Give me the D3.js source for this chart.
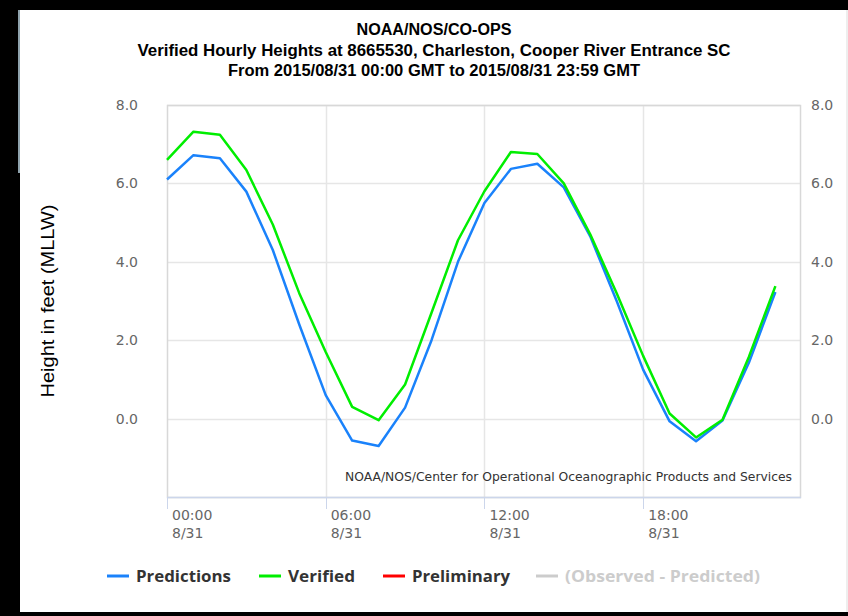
<!DOCTYPE html>
<head>
  <meta charset="utf-8">
  <script src="https://d3js.org/d3.v7.min.js"></script>
  <style>
    body { margin: 0; background: #000; }
    text { font-family: "Liberation Sans", Arial, sans-serif; }
  </style>
</head>
<body>
  <div id="graph"></div>
  <script>
    // hourly data, 2015/08/31 GMT
    var hours = d3.range(24);
    var predictions = [6.1, 6.72, 6.64, 5.79, 4.3, 2.4, 0.6, -0.56, -0.7, 0.28, 2.0, 4.0,
      5.5, 6.37, 6.5, 5.9, 4.65, 3.0, 1.25, -0.07, -0.58, -0.05, 1.43, 3.23];
    var verified = [6.6, 7.32, 7.24, 6.34, 4.95, 3.2, 1.7, 0.3, -0.04, 0.87, 2.7, 4.55,
      5.8, 6.8, 6.75, 6.0, 4.7, 3.2, 1.6, 0.13, -0.48, -0.03, 1.58, 3.38];
    var yTicks = [0, 2, 4, 6, 8];
    var xTicks = [0, 6, 12, 18];
    var xTickLabels = ["00:00", "06:00", "12:00", "18:00"];
    var titles = ["NOAA/NOS/CO-OPS",
      "Verified Hourly Heights at 8665530, Charleston, Cooper River Entrance SC",
      "From 2015/08/31 00:00 GMT to 2015/08/31 23:59 GMT"];
    var titleWidths = [155, 593, 412];
    var legendItems = [
      { name: "Predictions", color: "#1a82fb", text: "#333", w: 95 },
      { name: "Verified", color: "#00ee00", text: "#333", w: 67 },
      { name: "Preliminary", color: "#ff0000", text: "#333", w: 98 },
      { name: "(Observed - Predicted)", color: "#cccccc", text: "#cccccc", w: 195 }
    ];

    var width = 848, height = 616;
    var svg = d3.select("#graph").append("svg")
      .attr("width", width)
      .attr("height", height)
      .style("display", "block");

    // screenshot frame
    svg.append("rect").attr("width", width).attr("height", height).attr("fill", "#000");
    svg.append("rect").attr("x", 20).attr("y", 10).attr("width", 828).attr("height", 602).attr("fill", "#fff");
    svg.append("rect").attr("x", 18).attr("y", 10).attr("width", 2).attr("height", 163).attr("fill", "#8fa3ad");
    svg.append("rect").attr("x", 846).attr("y", 10).attr("width", 2).attr("height", 602).attr("fill", "#eee");

    var pLeft = 167, pRight = 800, pTop = 105, pBottom = 497;
    var x = d3.scaleLinear().domain([0, 23.93]).range([pLeft, pRight]);
    var y = d3.scaleLinear().domain([-2, 8]).range([pBottom, pTop]);

    // horizontal grid
    svg.selectAll(".hgrid").data(yTicks).enter()
      .append("line")
      .attr("x1", pLeft).attr("x2", pRight)
      .attr("y1", d => Math.round(y(d)) + 0.5).attr("y2", d => Math.round(y(d)) + 0.5)
      .attr("stroke", "#e6e6e6").attr("stroke-width", 1.5);

    // vertical grid
    svg.selectAll(".vgrid").data(xTicks.slice(1)).enter()
      .append("line")
      .attr("x1", d => Math.round(x(d)) + 0.5).attr("x2", d => Math.round(x(d)) + 0.5)
      .attr("y1", pTop).attr("y2", pBottom)
      .attr("stroke", "#e6e6e6").attr("stroke-width", 1.5);

    // plot frame
    svg.append("rect")
      .attr("x", pLeft + 0.5).attr("y", pTop + 0.5)
      .attr("width", pRight - pLeft).attr("height", pBottom - pTop)
      .attr("fill", "none").attr("stroke", "#d8d8d8").attr("stroke-width", 1.5);

    // x axis line and ticks
    svg.append("line")
      .attr("x1", pLeft).attr("x2", pRight + 1)
      .attr("y1", pBottom + 0.5).attr("y2", pBottom + 0.5)
      .attr("stroke", "#ccd6eb").attr("stroke-width", 1.5);
    svg.selectAll(".xtick").data(xTicks).enter()
      .append("line")
      .attr("x1", d => Math.round(x(d)) + 0.5).attr("x2", d => Math.round(x(d)) + 0.5)
      .attr("y1", pBottom).attr("y2", pBottom + 12)
      .attr("stroke", "#ccd6eb").attr("stroke-width", 1);

    var xl = svg.selectAll(".xlab").data(xTicks).enter()
      .append("text")
      .attr("y", pBottom + 23)
      .attr("fill", "#666")
      .style("font-family", "'DejaVu Sans', Verdana, sans-serif")
      .style("font-size", "14px");
    xl.append("tspan").attr("x", d => x(d) + 5).text((d, i) => xTickLabels[i]);
    xl.append("tspan").attr("x", d => x(d) + 5).attr("dy", 18).text("8/31");

    // y tick labels both sides
    svg.selectAll(".ylabL").data(yTicks).enter()
      .append("text")
      .attr("x", 138).attr("y", d => y(d) + 5)
      .attr("text-anchor", "end")
      .attr("fill", "#666")
      .style("font-family", "'DejaVu Sans', Verdana, sans-serif")
      .style("font-size", "14px")
      .text(d => d.toFixed(1));
    svg.selectAll(".ylabR").data(yTicks).enter()
      .append("text")
      .attr("x", 811).attr("y", d => y(d) + 5)
      .attr("fill", "#666")
      .style("font-family", "'DejaVu Sans', Verdana, sans-serif")
      .style("font-size", "14px")
      .text(d => d.toFixed(1));

    // y axis title
    svg.append("text")
      .attr("transform", "translate(54,301) rotate(-90)")
      .attr("text-anchor", "middle")
      .attr("fill", "#000")
      .attr("textLength", 193)
      .attr("lengthAdjust", "spacingAndGlyphs")
      .style("font-size", "18px")
      .text("Height in feet (MLLW)");

    // series
    var line = d3.line()
      .x((d, i) => x(hours[i]))
      .y(d => y(d));

    svg.append("path").datum(predictions)
      .attr("d", line)
      .attr("fill", "none")
      .attr("stroke", legendItems[0].color)
      .attr("stroke-width", 2.5)
      .attr("stroke-linejoin", "round");
    svg.append("path").datum(verified)
      .attr("d", line)
      .attr("fill", "none")
      .attr("stroke", legendItems[1].color)
      .attr("stroke-width", 2.5)
      .attr("stroke-linejoin", "round");

    // credits
    svg.append("text")
      .attr("x", 792).attr("y", 481)
      .attr("text-anchor", "end")
      .attr("fill", "#333")
      .attr("textLength", 447)
      .attr("lengthAdjust", "spacingAndGlyphs")
      .style("font-family", "'DejaVu Sans', Verdana, sans-serif")
      .style("font-size", "12.3px")
      .text("NOAA/NOS/Center for Operational Oceanographic Products and Services");

    // titles
    svg.selectAll(".title").data(titles).enter()
      .append("text")
      .attr("x", 434)
      .attr("y", (d, i) => 35 + i * 20.5)
      .attr("text-anchor", "middle")
      .attr("fill", "#000")
      .attr("textLength", (d, i) => titleWidths[i])
      .attr("lengthAdjust", "spacingAndGlyphs")
      .style("font-weight", "bold")
      .style("font-size", "16px")
      .text(d => d);

    // legend
    var legendX = [107, 259, 383, 536];
    var lg = svg.selectAll(".legend").data(legendItems).enter()
      .append("g")
      .attr("transform", (d, i) => "translate(" + legendX[i] + ",576)");
    lg.append("line")
      .attr("x1", 0).attr("x2", 22)
      .attr("stroke", d => d.color).attr("stroke-width", 3);
    lg.append("text")
      .attr("x", 29).attr("y", 6)
      .attr("fill", d => d.text)
      .attr("textLength", d => d.w)
      .attr("lengthAdjust", "spacingAndGlyphs")
      .style("font-family", "'Open Sans', sans-serif")
      .style("font-weight", "bold")
      .style("font-size", "16px")
      .text(d => d.name);
  </script>
</body>
